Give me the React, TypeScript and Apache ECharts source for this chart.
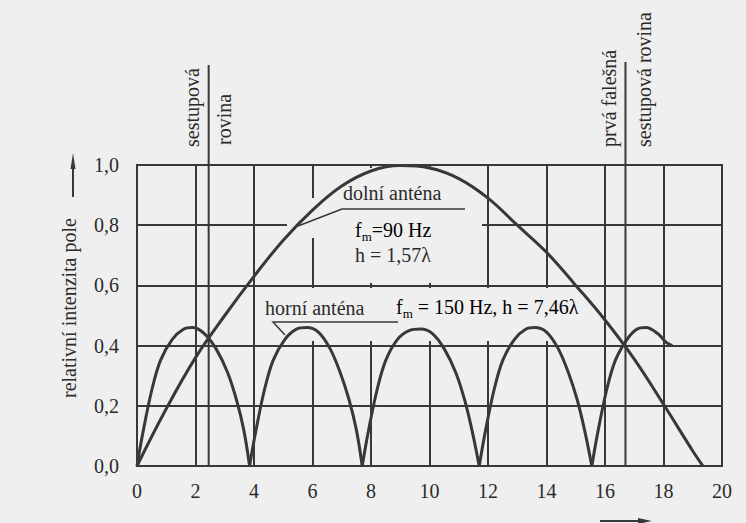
import React, { useEffect, useRef } from "react";
import * as echarts from "echarts";

// ---------- data ----------
const X_TICKS = ["0", "2", "4", "6", "8", "10", "12", "14", "16", "18", "20"];
const Y_TICKS = ["0,0", "0,2", "0,4", "0,6", "0,8", "1,0"];

// dolní anténa (fm = 90 Hz, h = 1,57λ)
const LOWER_X = [0, 1, 2, 3, 4, 5, 6, 7, 8, 9, 10, 11, 12, 13, 14, 15, 16, 17, 18, 19, 19.35];
const LOWER_Y = [0, 0.19, 0.36, 0.5, 0.63, 0.75, 0.85, 0.93, 0.98, 0.998, 0.99, 0.955, 0.89, 0.8, 0.71, 0.6, 0.485, 0.355, 0.205, 0.05, 0.0];

// horní anténa (fm = 150 Hz, h = 7,46λ) – five lobes
const LOBE_1 = [[0, 0], [0.2, 0.11], [0.5, 0.25], [0.8, 0.35], [1.2, 0.42], [1.6, 0.455], [1.9, 0.46], [2.3, 0.44], [2.7, 0.39], [3.1, 0.31], [3.4, 0.22], [3.65, 0.12], [3.85, 0]];
const LOBE_2 = [[3.85, 0], [4.05, 0.11], [4.35, 0.25], [4.65, 0.35], [5.05, 0.42], [5.45, 0.455], [5.8, 0.46], [6.2, 0.445], [6.6, 0.39], [6.95, 0.31], [7.25, 0.22], [7.5, 0.12], [7.7, 0]];
const LOBE_3 = [[7.7, 0], [7.9, 0.11], [8.2, 0.25], [8.5, 0.35], [8.9, 0.42], [9.3, 0.45], [9.7, 0.455], [10.1, 0.44], [10.5, 0.39], [10.9, 0.31], [11.2, 0.22], [11.45, 0.12], [11.7, 0]];
const LOBE_4 = [[11.7, 0], [11.9, 0.11], [12.2, 0.25], [12.5, 0.35], [12.9, 0.42], [13.3, 0.455], [13.6, 0.46], [14.0, 0.445], [14.4, 0.39], [14.75, 0.31], [15.05, 0.22], [15.3, 0.12], [15.55, 0]];
const LOBE_5 = [[15.55, 0], [15.75, 0.11], [16.05, 0.25], [16.35, 0.35], [16.75, 0.42], [17.1, 0.455], [17.4, 0.46], [17.8, 0.44], [18.1, 0.41], [18.3, 0.4]];
const LOBES = [LOBE_1, LOBE_2, LOBE_3, LOBE_4, LOBE_5];

// glide planes
const GLIDE_X = 2.45;
const FALSE_GLIDE_X = 16.7;

// ---------- styles ----------
const BG = "#efefef";
const INK = "#2b2b2b";
const LINE = "#383838";
const FONT = "Liberation Serif";

export default function App() {
  const ref = useRef<HTMLDivElement>(null);

  useEffect(() => {
    document.body.style.margin = "0";
    const chart = echarts.init(ref.current!, null, { renderer: "svg" });

    const curveStyle = { color: LINE, width: 3 };
    const series: any[] = [
      {
        type: "line",
        name: "dolní anténa",
        data: LOWER_X.map((x, i) => [x, LOWER_Y[i]]),
        smooth: 0.4,
        showSymbol: false,
        lineStyle: curveStyle,
        z: 3,
      },
      ...LOBES.map((lobe, i) => ({
        type: "line",
        name: "horní anténa " + (i + 1),
        data: lobe,
        smooth: 0.35,
        showSymbol: false,
        lineStyle: curveStyle,
        z: 3,
      })),
    ];

    chart.setOption({
      animation: false,
      backgroundColor: BG,
      textStyle: { fontFamily: FONT },
      grid: {
        left: 137,
        right: 24,
        top: 165,
        bottom: 57,
        show: true,
        borderColor: LINE,
        borderWidth: 2,
      },
      xAxis: {
        type: "value",
        min: 0,
        max: 20,
        interval: 2,
        axisLine: { show: true, lineStyle: { color: LINE, width: 2 } },
        axisTick: { show: false },
        splitLine: { show: true, lineStyle: { color: LINE, width: 2 } },
        axisLabel: {
          fontSize: 20,
          fontFamily: FONT,
          color: INK,
          margin: 15,
          formatter: (v: number) => X_TICKS[Math.round(v / 2)] ?? "",
        },
      },
      yAxis: {
        type: "value",
        min: 0,
        max: 1,
        interval: 0.2,
        axisLine: { show: true, lineStyle: { color: LINE, width: 2 } },
        axisTick: { show: false },
        splitLine: { show: true, lineStyle: { color: LINE, width: 2 } },
        axisLabel: {
          fontSize: 20,
          fontFamily: FONT,
          color: INK,
          margin: 18,
          formatter: (v: number) => Y_TICKS[Math.round(v / 0.2)] ?? "",
        },
      },
      series,
    });

    const px = (x: number, y: number) => chart.convertToPixel({ gridIndex: 0 }, [x, y]) as number[];
    const [gx] = px(GLIDE_X, 0);
    const [fgx] = px(FALSE_GLIDE_X, 0);
    const [, y0] = px(0, 0);

    const txt = (text: string, x: number, y: number) => ({
      type: "text",
      x,
      y,
      z: 5,
      style: {
        text,
        fill: INK,
        fontSize: 20,
        fontFamily: FONT,
        align: "left",
        verticalAlign: "middle",
      },
    });
    const vtxt = (text: string, x: number, y: number) => ({
      ...txt(text, x, y),
      rotation: Math.PI / 2,
    });
    const rich = {
      a: { fontSize: 20, fontFamily: FONT, color: INK },
      b: { fontSize: 13, fontFamily: FONT, color: INK, padding: [12, 0, 0, 0] },
    };
    const mask = (x: number, y: number, w: number, h: number) => ({
      type: "rect",
      z: 1,
      shape: { x, y, width: w, height: h },
      style: { fill: BG },
    });

    chart.setOption({
      graphic: [
        // masks interrupting grid lines behind labels
        mask(318, 168, 164, 115),
        mask(287, 198, 31, 40),
        mask(262, 288, 338, 53),
        // glide plane lines
        { type: "line", z: 4, shape: { x1: gx, y1: 65, x2: gx, y2: y0 }, style: { stroke: LINE, lineWidth: 2 } },
        { type: "line", z: 4, shape: { x1: fgx, y1: 62, x2: fgx, y2: y0 }, style: { stroke: LINE, lineWidth: 2 } },
        vtxt("sestupová", 192, 147),
        vtxt("rovina", 224, 145),
        vtxt("prvá falešná", 609, 147),
        vtxt("sestupová rovina", 644, 147),
        // y axis name with arrow
        vtxt("relativní intenzita pole", 69, 398),
        { type: "line", z: 4, shape: { x1: 73, y1: 197, x2: 73, y2: 165 }, style: { stroke: LINE, lineWidth: 2 } },
        { type: "polygon", z: 4, shape: { points: [[73, 153], [70.5, 169], [75.5, 169]] }, style: { fill: LINE } },
        // x axis arrow (cut at bottom edge)
        { type: "line", z: 4, shape: { x1: 600, y1: 521, x2: 645, y2: 521 }, style: { stroke: LINE, lineWidth: 2 } },
        { type: "polygon", z: 4, shape: { points: [[652, 521], [638, 518], [638, 524]] }, style: { fill: LINE } },
        // labels
        txt("dolní anténa", 343, 193),
        { type: "polyline", z: 4, shape: { points: [[298, 226], [342, 209], [465, 209]] }, style: { stroke: LINE, lineWidth: 1.5, fill: null } },
        { type: "text", x: 355, y: 230, z: 5, style: { text: "{a|f}{b|m}{a|=90 Hz}", rich, align: "left", verticalAlign: "middle" } },
        txt("h = 1,57λ", 355, 255),
        txt("horní anténa", 265, 308),
        { type: "polyline", z: 4, shape: { points: [[285, 335], [273, 322], [398, 322]] }, style: { stroke: LINE, lineWidth: 1.5, fill: null } },
        { type: "text", x: 396, y: 307, z: 5, style: { text: "{a|f}{b|m}{a| = 150 Hz, h = 7,46λ}", rich, align: "left", verticalAlign: "middle" } },
      ],
    });

    return () => chart.dispose();
  }, []);

  return <div ref={ref} style={{ width: 746, height: 523 }} />;
}
